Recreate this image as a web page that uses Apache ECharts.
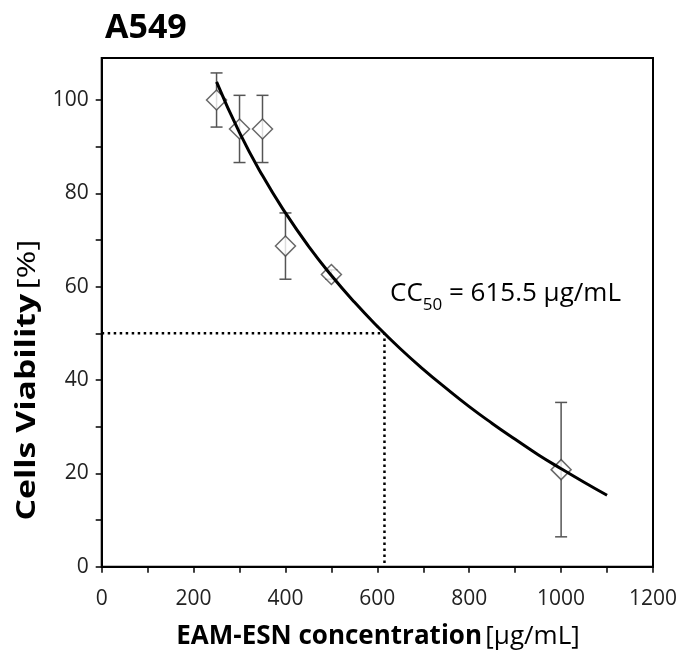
<!DOCTYPE html>
<html>
<head>
<meta charset="utf-8">
<script src="https://cdn.jsdelivr.net/npm/echarts@6/dist/echarts.min.js"></script>
<style>
html,body{margin:0;padding:0;background:#fff;}
#c{width:681px;height:655px;}
</style>
</head>
<body>
<div id="c"></div>
<script>
// Measured data points (concentration in µg/mL, viability %, SD)
var concentrations = [250, 300, 350, 400, 500, 1000];
var viability = [100, 93.8, 93.8, 68.7, 62.6, 20.8];
var viabilitySD = [5.8, 7.2, 7.2, 7.1, 1.0, 14.4];

// Fitted curve
var curveX = [250, 300, 350, 400, 450, 500, 550, 600, 650, 700, 750, 800, 850, 900, 950, 1000, 1050, 1100];
var curveY = [103.9, 93.0, 83.8, 75.8, 68.7, 62.4, 56.7, 51.5, 46.7, 42.3, 38.2, 34.3, 30.7, 27.3, 24.0, 21.0, 18.1, 15.3];

// CC50 guide
var cc50 = 615.5;
var halfViability = 50;

// Axis ticks
var xTicks = [0, 100, 200, 300, 400, 500, 600, 700, 800, 900, 1000, 1100, 1200];
var xLabels = [0, 200, 400, 600, 800, 1000, 1200];
var yTicks = [0, 10, 20, 30, 40, 50, 60, 70, 80, 90, 100];
var yLabels = [0, 20, 40, 60, 80, 100];

var FONT = 'Open Sans';

var chart = echarts.init(document.getElementById('c'), null, {renderer: 'canvas'});

var pts = concentrations.map(function (x, i) { return [x, viability[i]]; });
var errs = concentrations.map(function (x, i) { return [x, viability[i] - viabilitySD[i], viability[i] + viabilitySD[i]]; });
var curve = curveX.map(function (x, i) { return [x, curveY[i]]; });
var guide = [[0, halfViability], [cc50, halfViability], [cc50, 0]];

var option = {
  animation: false,
  backgroundColor: '#fff',
  grid: {left: 101.7, right: 28, top: 58, bottom: 88.3, show: true, borderColor: '#000', borderWidth: 2, outerBoundsMode: 'none'},
  xAxis: {
    type: 'value', min: 0, max: 1200, interval: 100,
    axisLine: {show: true, onZero: false, lineStyle: {color: '#000', width: 2}},
    axisTick: {show: true, length: 6, lineStyle: {color: '#000', width: 1.5}, customValues: xTicks},
    axisLabel: {customValues: xLabels, margin: 22, color: '#222', fontFamily: FONT, fontSize: 21,
      formatter: function (v) { return String(v); }},
    splitLine: {show: false}
  },
  yAxis: {
    type: 'value', min: 0, max: 109, interval: 10,
    axisLine: {show: true, onZero: false, lineStyle: {color: '#000', width: 2}},
    axisTick: {show: true, length: 6, lineStyle: {color: '#000', width: 1.5}, customValues: yTicks},
    axisLabel: {customValues: yLabels, margin: 13, color: '#222', fontFamily: FONT, fontSize: 21,
      formatter: function (v) { return String(v); }},
    splitLine: {show: false}
  },
  graphic: [
    {type: 'text', left: 105, top: 11, style: {text: 'A549', font: 'bold 34px "Open Sans"', fill: '#000'}},
    {type: 'text', x: 378, y: 637, style: {
      text: '{b|EAM-ESN concentration} {n|[µg/mL]}', align: 'center', verticalAlign: 'middle',
      rich: {b: {font: 'bold 26px "Open Sans"', fill: '#000'}, n: {font: '26px "Open Sans"', fill: '#000'}}
    }},
    {type: 'text', x: 28, y: 380, rotation: Math.PI / 2, scaleX: 1.3, scaleY: 1, style: {
      text: '{b|Cells Viability} {n|[%]}', align: 'center', verticalAlign: 'middle',
      rich: {b: {font: 'bold 26px "Open Sans"', fill: '#000'}, n: {font: '26px "Open Sans"', fill: '#000'}}
    }},
    {type: 'text', left: 390, top: 281, style: {
      text: '{m|CC}{s|50}{m| = 615.5 µg/mL}',
      rich: {m: {font: '26px "Open Sans"', fill: '#000', verticalAlign: 'bottom'},
             s: {font: '17px "Open Sans"', fill: '#000', padding: [0, 0, -7, 0], verticalAlign: 'bottom'}}
    }}
  ],
  series: [
    {
      type: 'custom', z: 1, data: errs,
      renderItem: function (params, api) {
        var x = api.value(0);
        var lo = api.coord([x, api.value(1)]);
        var hi = api.coord([x, api.value(2)]);
        var w = 6;
        var st = {stroke: '#555', lineWidth: 1.5};
        return {type: 'group', children: [
          {type: 'line', shape: {x1: lo[0], y1: lo[1], x2: hi[0], y2: hi[1]}, style: st},
          {type: 'line', shape: {x1: lo[0] - w, y1: lo[1], x2: lo[0] + w, y2: lo[1]}, style: st},
          {type: 'line', shape: {x1: hi[0] - w, y1: hi[1], x2: hi[0] + w, y2: hi[1]}, style: st}
        ]};
      }
    },
    {
      type: 'scatter', z: 2, data: pts, symbol: 'diamond', symbolSize: [20, 20],
      itemStyle: {color: '#fff', borderColor: '#444', borderWidth: 1.5}
    },
    {
      type: 'line', z: 3, data: curve, smooth: true, showSymbol: false, symbol: 'none',
      lineStyle: {color: '#000', width: 3}
    },
    {
      type: 'line', z: 3, data: guide, showSymbol: false, symbol: 'none',
      lineStyle: {color: '#000', width: 2.5, type: [2.5, 3.5]}
    }
  ]
};
chart.setOption(option);
</script>
</body>
</html>
